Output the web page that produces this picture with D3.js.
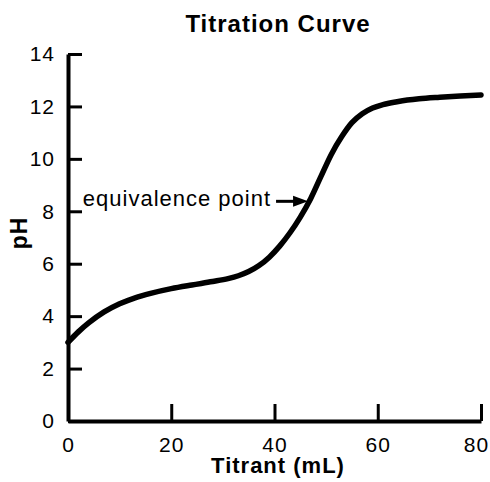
<!DOCTYPE html>
<meta charset="utf-8">
<style>
body { margin: 0; background: #fff; }
text { font-family: "Liberation Sans", Arial, sans-serif; fill: #000; letter-spacing: 1px; }
.axis .domain { stroke: #000; stroke-width: 4; }
.axis .tick line { stroke: #000; stroke-width: 3; }
.axis .tick text { font-size: 21px; }
</style>
<svg width="490" height="482"></svg>
<script src="https://cdnjs.cloudflare.com/ajax/libs/d3/7.8.5/d3.min.js"></script>
<script>

var titrant = [0, 2, 4, 7, 10, 13, 16, 20, 24, 28, 31, 33, 35, 37, 39, 41, 43, 45, 47, 49, 51, 53, 55, 57, 59, 61, 64, 68, 72, 76, 80];
var pH = [3.0, 3.4, 3.74, 4.16, 4.47, 4.7, 4.87, 5.05, 5.19, 5.32, 5.43, 5.54, 5.7, 5.93, 6.25, 6.67, 7.18, 7.78, 8.48, 9.33, 10.17, 10.84, 11.38, 11.72, 11.94, 12.07, 12.19, 12.29, 12.35, 12.4, 12.44];
var xTicks = [0, 20, 40, 60, 80];
var yTicks = [0, 2, 4, 6, 8, 10, 12, 14];
var annotation = { label: "equivalence point", x: 46.5, y: 8.38, tailX: 40.3 };

var svg = d3.select("svg");

var x = d3.scaleLinear()
    .domain([0, 80])
    .range([68, 481]);

var y = d3.scaleLinear()
    .domain([0, 14])
    .range([421, 54]);

var data = titrant.map(function(d, i) { return [d, pH[i]]; });

// axes, ticks pointing inward
var xAxis = svg.append("g")
    .attr("class", "axis")
    .attr("transform", "translate(0," + y(0) + ")")
    .call(d3.axisBottom(x).tickValues(xTicks).tickSize(-17).tickSizeOuter(0).tickPadding(16));

// last label is pulled in so it stays inside the window
xAxis.selectAll(".tick text").filter(function(d) { return d === 80; }).attr("dx", -5);

svg.append("g")
    .attr("class", "axis")
    .attr("transform", "translate(" + x(0) + ",0)")
    .call(d3.axisLeft(y).tickValues(yTicks).tickSize(-14).tickSizeOuter(0).tickPadding(13));

svg.selectAll(".axis").attr("font-family", null).attr("font-size", null);

var line = d3.line()
    .x(function(d) { return x(d[0]); })
    .y(function(d) { return y(d[1]); })
    .curve(d3.curveMonotoneX);

svg.append("path")
    .datum(data)
    .attr("fill", "none")
    .attr("stroke", "#000")
    .attr("stroke-width", 5.5)
    .attr("stroke-linecap", "round")
    .attr("d", line);

// annotation arrow
var tipX = x(annotation.x), tipY = y(annotation.y);
svg.append("line")
    .attr("x1", x(annotation.tailX))
    .attr("x2", tipX - 12)
    .attr("y1", tipY)
    .attr("y2", tipY)
    .attr("stroke", "#000")
    .attr("stroke-width", 3);

svg.append("path")
    .attr("d", "M" + tipX + "," + tipY + "L" + (tipX - 15) + "," + (tipY - 5.5) + "L" + (tipX - 15) + "," + (tipY + 5.5) + "Z")
    .attr("fill", "#000");

svg.append("text")
    .attr("x", x(annotation.tailX) - 5)
    .attr("y", tipY + 5)
    .attr("text-anchor", "end")
    .attr("font-size", "22px")
    .text(annotation.label);

// titles
svg.append("text")
    .attr("x", 278)
    .attr("y", 32)
    .attr("text-anchor", "middle")
    .attr("font-size", "24px")
    .attr("font-weight", "bold")
    .text("Titration Curve");

svg.append("text")
    .attr("x", 278)
    .attr("y", 473)
    .attr("text-anchor", "middle")
    .attr("font-size", "22px")
    .attr("font-weight", "bold")
    .text("Titrant (mL)");

svg.append("text")
    .attr("transform", "translate(27,233) rotate(-90)")
    .attr("text-anchor", "middle")
    .attr("font-size", "23px")
    .attr("font-weight", "bold")
    .text("pH");

</script>
